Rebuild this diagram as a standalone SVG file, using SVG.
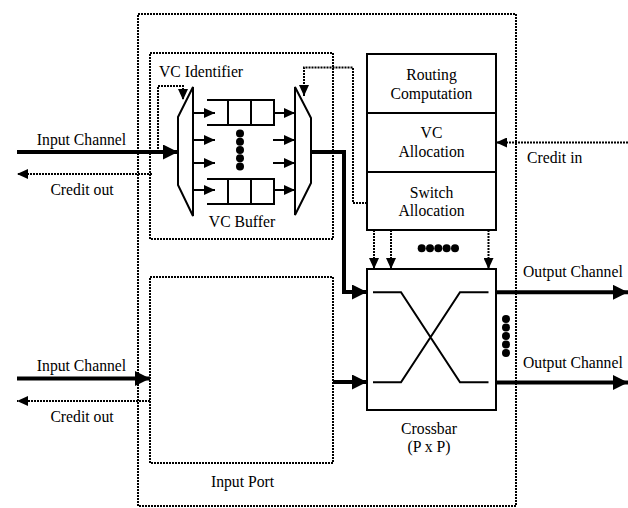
<svg xmlns="http://www.w3.org/2000/svg" width="628" height="508" viewBox="0 0 628 508" font-family="'Liberation Serif', 'DejaVu Serif', serif">
<defs>
<style>
text{font-family:'Liberation Serif','DejaVu Serif',serif;font-size:15.7px;fill:#000}
.mid{text-anchor:middle}
.dot{fill:none;stroke:#000;stroke-width:2;stroke-dasharray:2 1}
.thick{fill:none;stroke:#000;stroke-width:4}
.thin{fill:none;stroke:#000;stroke-width:2}
.box{fill:#fff;stroke:#000;stroke-width:2}
circle{fill:#000}
</style>
<marker id="big" markerUnits="userSpaceOnUse" markerWidth="16" markerHeight="15" refX="15" refY="7.5" orient="auto"><path d="M0,0 L15,7.5 L0,15 z" fill="#000"/></marker>
<marker id="sm" markerUnits="userSpaceOnUse" markerWidth="12" markerHeight="10" refX="11" refY="5" orient="auto"><path d="M0,0 L11,5 L0,10 z" fill="#000"/></marker>
</defs>

<g id="outer-router"><rect x="138" y="14" width="378" height="492" class="dot"/></g>

<g id="vc-buffer-port">
<rect x="150" y="53" width="183" height="186" class="dot"/>
<text x="159" y="77">VC Identifier</text>
<text x="242" y="227" class="mid">VC Buffer</text>
</g>

<g id="input-mux"><polygon points="193,87 178,117 178,185 193,216" class="box"/></g>
<g id="output-mux"><polygon points="295,87 311,118 311,183 295,215" class="box"/></g>

<g id="queue-top"><path d="M207,100 H274 V125 H207 M228,100 V125 M251,100 V125" class="thin"/></g>
<g id="queue-bottom"><path d="M207,179 H274 V204 H207 M228,179 V204 M251,179 V204" class="thin"/></g>
<g id="queue-dots">
<circle cx="240" cy="133.5" r="4"/><circle cx="240" cy="141.7" r="4"/><circle cx="240" cy="150" r="4"/><circle cx="240" cy="158.2" r="4"/><circle cx="240" cy="166.5" r="4"/>
</g>

<g id="input-port-2">
<rect x="150" y="277" width="183" height="186" class="dot"/>
<text x="242.5" y="487" class="mid">Input Port</text>
</g>

<g id="control-block">
<rect x="367" y="54" width="129" height="176" class="box"/>
<path d="M367,113 H496 M367,172 H496" class="thin"/>
<text x="431.5" y="80" class="mid">Routing</text>
<text x="431.5" y="98.5" class="mid">Computation</text>
<text x="431.5" y="138" class="mid">VC</text>
<text x="431.5" y="157" class="mid">Allocation</text>
<text x="431.5" y="197.5" class="mid">Switch</text>
<text x="431.5" y="216" class="mid">Allocation</text>
</g>

<g id="crossbar">
<rect x="367" y="269" width="129" height="141" class="box"/>
<path d="M373,292.3 H401 L460,382.3 H488.5 M373,382.3 H401 L460,292.3 H488.5" class="thin"/>
<text x="429" y="433.5" class="mid">Crossbar</text>
<text x="429" y="452" class="mid">(P x P)</text>
</g>

<g id="labels">
<text x="81.5" y="145" class="mid">Input Channel</text>
<text x="82" y="195" class="mid">Credit out</text>
<text x="81.5" y="371" class="mid">Input Channel</text>
<text x="82" y="422" class="mid">Credit out</text>
<text x="527" y="163">Credit in</text>
<text x="523" y="277">Output Channel</text>
<text x="523" y="368">Output Channel</text>
</g>

<g id="connectors">
<line x1="17" y1="152" x2="178" y2="152" class="thick" marker-end="url(#big)"/>
<line x1="152" y1="174" x2="17" y2="174" class="dot" marker-end="url(#sm)"/>
<path d="M158,152 V86 H183 V100" class="dot" marker-end="url(#sm)"/>
<line x1="193" y1="113" x2="215" y2="113" class="thin" marker-end="url(#sm)"/>
<line x1="193" y1="140" x2="215" y2="140" class="thin" marker-end="url(#sm)"/>
<line x1="193" y1="163" x2="215" y2="163" class="thin" marker-end="url(#sm)"/>
<line x1="193" y1="190" x2="215" y2="190" class="thin" marker-end="url(#sm)"/>
<line x1="274" y1="113" x2="295" y2="113" class="thin" marker-end="url(#sm)"/>
<line x1="273" y1="140" x2="295" y2="140" class="thin" marker-end="url(#sm)"/>
<line x1="273" y1="163" x2="295" y2="163" class="thin" marker-end="url(#sm)"/>
<line x1="274" y1="190" x2="295" y2="190" class="thin" marker-end="url(#sm)"/>
<path d="M311,152 H344 V292 H367" class="thick" marker-end="url(#big)"/>
<path d="M367,203 H353 V67.5 H304 V96" class="dot" marker-end="url(#sm)"/>
<line x1="628" y1="142.5" x2="496" y2="142.5" class="dot" marker-end="url(#sm)"/>
<line x1="374" y1="230" x2="374" y2="269" class="dot" marker-end="url(#sm)"/>
<line x1="391" y1="230" x2="391" y2="269" class="dot" marker-end="url(#sm)"/>
<line x1="488.5" y1="230" x2="488.5" y2="269" class="dot" marker-end="url(#sm)"/>
<circle cx="421.7" cy="248.3" r="4"/><circle cx="430" cy="248.3" r="4"/><circle cx="438.3" cy="248.3" r="4"/><circle cx="446.6" cy="248.3" r="4"/><circle cx="455" cy="248.3" r="4"/>
<line x1="17" y1="378.5" x2="150" y2="378.5" class="thick" marker-end="url(#big)"/>
<line x1="150" y1="401" x2="17" y2="401" class="dot" marker-end="url(#sm)"/>
<line x1="333" y1="382" x2="367" y2="382" class="thick" marker-end="url(#big)"/>
<line x1="496" y1="292.3" x2="628" y2="292.3" class="thick" marker-end="url(#big)"/>
<line x1="496" y1="382.5" x2="628" y2="382.5" class="thick" marker-end="url(#big)"/>
<circle cx="506" cy="319" r="4"/><circle cx="506" cy="327.5" r="4"/><circle cx="506" cy="336" r="4"/><circle cx="506" cy="344.5" r="4"/><circle cx="506" cy="353" r="4"/>
</g>
</svg>
